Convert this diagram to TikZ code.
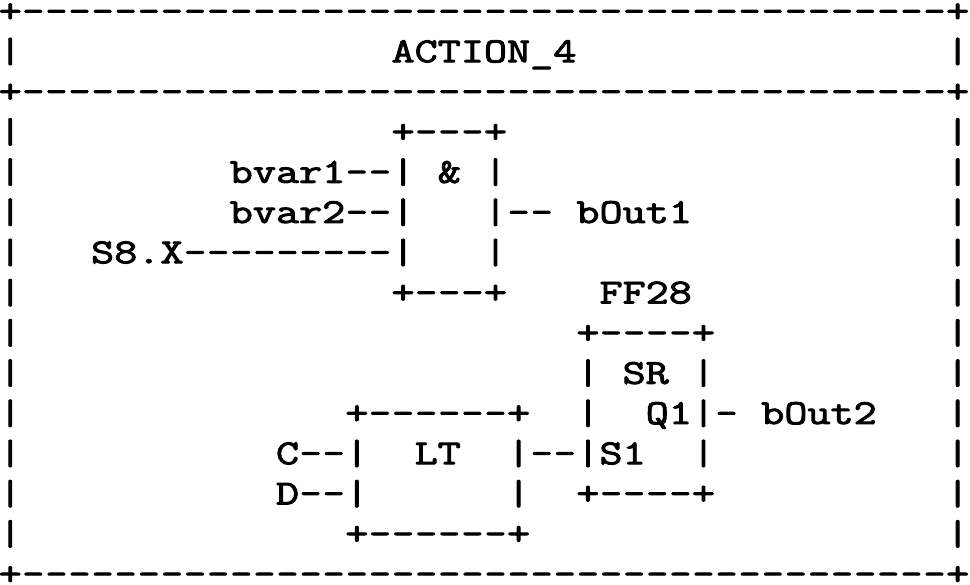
\documentclass[tikz,border=0pt]{standalone}
\usepackage{fontspec}
\setmonofont[FakeStretch=1.282,FakeBold=2.7]{Latin Modern Mono}
\newfontfamily\hyfont[FakeStretch=1.2,FakeBold=2.8]{Latin Modern Mono}
\newcommand{\hybox}{\setbox0\hbox{\char45}\hbox to \wd0{\hss\hyfont\char45\hss}}
\begingroup\catcode`\-=13 \gdef-{\hybox}\endgroup
\tikzset{
  asciiline/.style={anchor=base west,inner sep=0pt,outer sep=0pt,font=\fontsize{35}{40}\selectfont\ttfamily,
    execute at begin node={\catcode`\-=13 }},
}
\begin{document}
\begin{tikzpicture}[x=1pt,y=1pt]
\useasboundingbox (0,0) rectangle (970,585);
\fill[white] (0,0) rectangle (970,585);
\def\rowx{-1.3}
\node[asciiline] (r01) at (\rowx,563.0) {+----------------------------------------+};
\node[asciiline] (r02) at (\rowx,522.8) {|~~~~~~~~~~~~~~~~ACTION\_4~~~~~~~~~~~~~~~~|};
\node[asciiline] (r03) at (\rowx,482.6) {+----------------------------------------+};
\node[asciiline] (r04) at (\rowx,442.4) {|~~~~~~~~~~~~~~~~+---+~~~~~~~~~~~~~~~~~~~|};
\node[asciiline] (r05) at (\rowx,402.2) {|~~~~~~~~~bvar1--|~\&~|~~~~~~~~~~~~~~~~~~~|};
\node[asciiline] (r06) at (\rowx,362.0) {|~~~~~~~~~bvar2--|~~~|--~bOut1~~~~~~~~~~~|};
\node[asciiline] (r07) at (\rowx,321.8) {|~~~S8.X---------|~~~|~~~~~~~~~~~~~~~~~~~|};
\node[asciiline] (r08) at (\rowx,281.6) {|~~~~~~~~~~~~~~~~+---+~~~~FF28~~~~~~~~~~~|};
\node[asciiline] (r09) at (\rowx,241.4) {|~~~~~~~~~~~~~~~~~~~~~~~~+----+~~~~~~~~~~|};
\node[asciiline] (r10) at (\rowx,201.2) {|~~~~~~~~~~~~~~~~~~~~~~~~|~SR~|~~~~~~~~~~|};
\node[asciiline] (r11) at (\rowx,161.0) {|~~~~~~~~~~~~~~+------+~~|~~Q1|-~bOut2~~~|};
\node[asciiline] (r12) at (\rowx,120.8) {|~~~~~~~~~~~C--|~~LT~~|--|S1~~|~~~~~~~~~~|};
\node[asciiline] (r13) at (\rowx,80.6) {|~~~~~~~~~~~D--|~~~~~~|~~+----+~~~~~~~~~~|};
\node[asciiline] (r14) at (\rowx,40.4) {|~~~~~~~~~~~~~~+------+~~~~~~~~~~~~~~~~~~|};
\node[asciiline] (r15) at (\rowx,0.2) {+----------------------------------------+};
\end{tikzpicture}
\end{document}
